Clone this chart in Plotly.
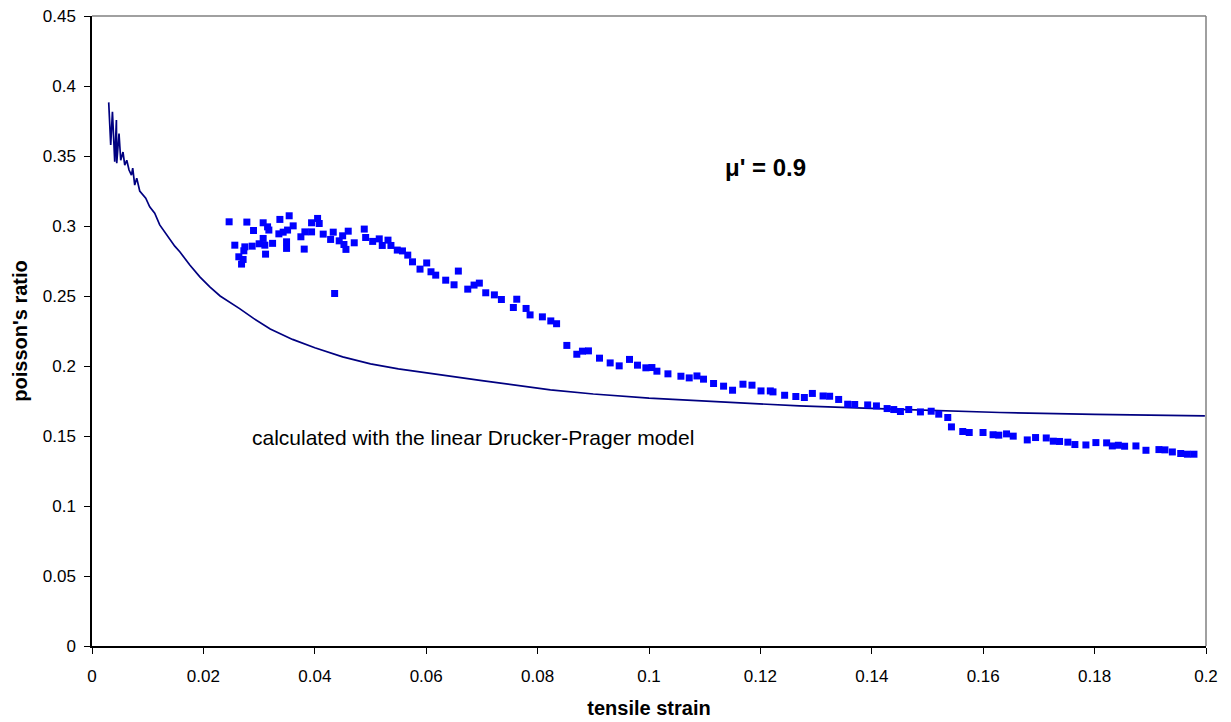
import plotly.graph_objects as go

# Measured (scatter) data
meas_x = [0.02462, 0.02564, 0.02636, 0.02685, 0.02713, 0.02726, 0.02744, 0.02780, 0.02875, 0.02900,
          0.03001, 0.03073, 0.03073, 0.03103, 0.03116, 0.03152, 0.03175, 0.03242, 0.03355, 0.03373,
          0.03432, 0.03493, 0.03493, 0.03511, 0.03540, 0.03612, 0.03750, 0.03810, 0.03822, 0.03942,
          0.03942, 0.04050, 0.04079, 0.04151, 0.04284, 0.04331, 0.04356, 0.04438, 0.04500, 0.04523,
          0.04559, 0.04600, 0.04708, 0.04888, 0.04913, 0.05039, 0.05157, 0.05211, 0.05314, 0.05367,
          0.05481, 0.05574, 0.05669, 0.05754, 0.05889, 0.06009, 0.06086, 0.06171, 0.06350, 0.06500,
          0.06577, 0.06746, 0.06859, 0.06954, 0.07069, 0.07224, 0.07350, 0.07565, 0.07626, 0.07793,
          0.07865, 0.08086, 0.08237, 0.08341, 0.08525, 0.08704, 0.08805, 0.08913, 0.09111, 0.09303,
          0.09465, 0.09650, 0.09793, 0.09944, 0.10052, 0.10142, 0.10340, 0.10573, 0.10722, 0.10861,
          0.10979, 0.11159, 0.11339, 0.11500, 0.11687, 0.11849, 0.12011, 0.12178, 0.12226, 0.12435,
          0.12636, 0.12789, 0.12933, 0.13125, 0.13243, 0.13405, 0.13567, 0.13693, 0.13926, 0.14083,
          0.14275, 0.14394, 0.14514, 0.14663, 0.14873, 0.15066, 0.15202, 0.15364, 0.15430, 0.15633,
          0.15749, 0.15997, 0.16177, 0.16280, 0.16419, 0.16539, 0.16791, 0.16940, 0.17132, 0.17258,
          0.17371, 0.17520, 0.17646, 0.17844, 0.18023, 0.18216, 0.18318, 0.18426, 0.18539, 0.18742,
          0.18922, 0.19155, 0.19263, 0.19396, 0.19546, 0.19666, 0.19784]
meas_y = [0.3030, 0.2863, 0.2780, 0.2728, 0.2761, 0.2823, 0.2851, 0.3028, 0.2856, 0.2968,
          0.2873, 0.3023, 0.2911, 0.2863, 0.2799, 0.2994, 0.2971, 0.2876, 0.2944, 0.3047,
          0.2956, 0.2887, 0.2840, 0.2971, 0.3073, 0.3001, 0.2923, 0.2835, 0.2958, 0.2958,
          0.3023, 0.3054, 0.3018, 0.2942, 0.2904, 0.2956, 0.2518, 0.2894, 0.2930, 0.2868,
          0.2833, 0.2963, 0.2880, 0.2978, 0.2918, 0.2890, 0.2908, 0.2861, 0.2899, 0.2861,
          0.2828, 0.2822, 0.2792, 0.2744, 0.2692, 0.2736, 0.2673, 0.2649, 0.2613, 0.2580,
          0.2678, 0.2549, 0.2578, 0.2592, 0.2523, 0.2508, 0.2475, 0.2418, 0.2477, 0.2411,
          0.2365, 0.2351, 0.2322, 0.2302, 0.2147, 0.2084, 0.2106, 0.2108, 0.2056, 0.2022,
          0.2001, 0.2047, 0.2006, 0.1987, 0.1989, 0.1963, 0.1944, 0.1927, 0.1915, 0.1929,
          0.1906, 0.1875, 0.1856, 0.1827, 0.1870, 0.1863, 0.1822, 0.1822, 0.1815, 0.1791,
          0.1782, 0.1775, 0.1804, 0.1786, 0.1784, 0.1761, 0.1727, 0.1725, 0.1722, 0.1715,
          0.1696, 0.1689, 0.1675, 0.1689, 0.1672, 0.1677, 0.1656, 0.1632, 0.1565, 0.1532,
          0.1525, 0.1525, 0.1509, 0.1506, 0.1515, 0.1499, 0.1472, 0.1489, 0.1486, 0.1463,
          0.1461, 0.1456, 0.1439, 0.1436, 0.1453, 0.1451, 0.1429, 0.1434, 0.1427, 0.1429,
          0.1398, 0.1403, 0.1401, 0.1386, 0.1375, 0.1370, 0.1370]

# Calculated curve (linear Drucker-Prager model)
model_x = [0.00300, 0.00336, 0.00367, 0.00408, 0.00438, 0.00444, 0.00485, 0.00516, 0.00557, 0.00588,
           0.00624, 0.00665, 0.00708, 0.00731, 0.00767, 0.00803, 0.00857, 0.00911, 0.00965, 0.01036,
           0.01126, 0.01216, 0.01306, 0.01396, 0.01486, 0.01576, 0.01756, 0.01936, 0.02115, 0.02300,
           0.02500, 0.02650, 0.02900, 0.03200, 0.03600, 0.04000, 0.04500, 0.05000, 0.05500, 0.06000,
           0.07000, 0.08230, 0.09000, 0.10000, 0.11000, 0.12700, 0.14500, 0.16300, 0.18000, 0.19980]
model_y = [0.3883, 0.3578, 0.3816, 0.3459, 0.3757, 0.3449, 0.3661, 0.3470, 0.3528, 0.3435,
           0.3470, 0.3400, 0.3363, 0.3413, 0.3292, 0.3342, 0.3250, 0.3221, 0.3199, 0.3137,
           0.3092, 0.3008, 0.2956, 0.2900, 0.2856, 0.2816, 0.2721, 0.2637, 0.2565, 0.2500,
           0.2450, 0.2410, 0.2340, 0.2265, 0.2190, 0.2130, 0.2065, 0.2015, 0.1980, 0.1950,
           0.1895, 0.1830, 0.1800, 0.1770, 0.1750, 0.1715, 0.1690, 0.1668, 0.1655, 0.1644]

FONT = "Arial, Liberation Sans, sans-serif"

fig = go.Figure()
fig.add_trace(go.Scatter(x=model_x, y=model_y, mode="lines",
                         line=dict(color="#000080", width=1.7), showlegend=False))
fig.add_trace(go.Scatter(x=meas_x, y=meas_y, mode="markers",
                         marker=dict(symbol="square", size=7, color="#0000FF",
                                     line=dict(width=0)), showlegend=False))

fig.add_annotation(x=0.1209, y=0.342, text="<b>μ' = 0.9</b>", showarrow=False,
                   font=dict(family=FONT, size=24, color="black"))
fig.add_annotation(x=0.0283, y=0.1492, text="calculated with the linear Drucker-Prager model",
                   showarrow=False, xanchor="left",
                   font=dict(family=FONT, size=21, color="black"))

# grey top/right border of plot area
fig.add_shape(type="line", xref="paper", yref="paper", x0=0, x1=1, y0=1, y1=1,
              line=dict(color="#808080", width=1.5))
fig.add_shape(type="line", xref="paper", yref="paper", x0=1, x1=1, y0=0, y1=1,
              line=dict(color="#808080", width=1.5))

fig.update_layout(
    width=1231, height=722,
    margin=dict(l=92, r=25, t=16, b=76),
    paper_bgcolor="white", plot_bgcolor="white",
    font=dict(family=FONT, size=17, color="black"),
    xaxis=dict(range=[0, 0.2], dtick=0.02, tick0=0, showgrid=False, zeroline=False,
               showline=True, linecolor="black", linewidth=1.5, automargin=False,
               ticks="outside", ticklen=6, tickcolor="black", ticklabelstandoff=8,
               tickfont=dict(family=FONT, size=17),
               title=dict(text="<b>tensile strain</b>", font=dict(family=FONT, size=20), standoff=16)),
    yaxis=dict(range=[0, 0.45], dtick=0.05, tick0=0, showgrid=False, zeroline=False,
               showline=True, linecolor="black", linewidth=1.5, automargin=False,
               ticks="outside", ticklen=6, tickcolor="black", ticklabelstandoff=5,
               tickfont=dict(family=FONT, size=17),
               title=dict(text="<b>poisson's ratio</b>", font=dict(family=FONT, size=20), standoff=10)),
)

fig.write_html("out.html")
